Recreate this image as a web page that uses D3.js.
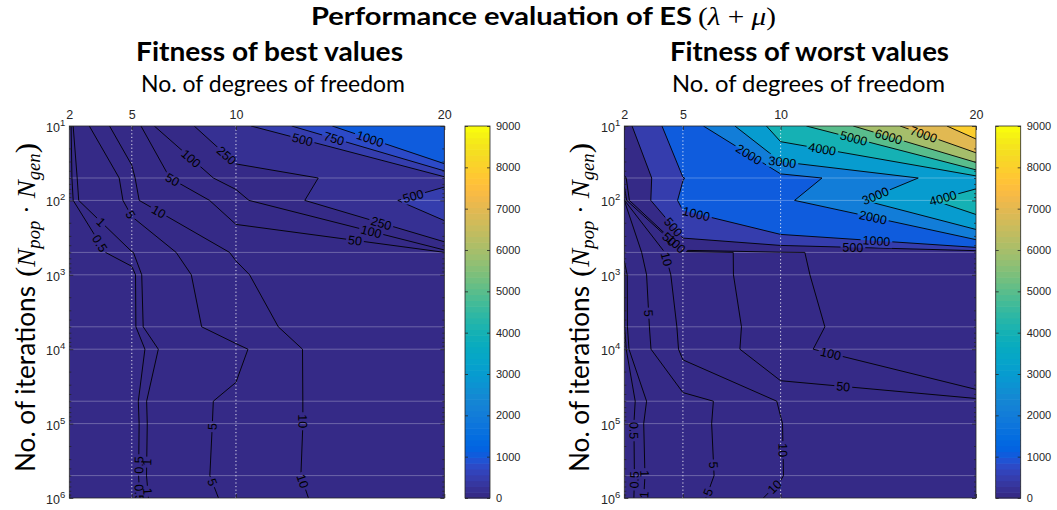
<!DOCTYPE html>
<html>
<head>
<meta charset="utf-8">
<script src="https://cdn.jsdelivr.net/npm/d3@7"></script>
<style>
  body { margin: 0; background: #fff; }
  .num { font-family: "Liberation Sans", Arial, sans-serif; fill: #262626; }
</style>
</head>
<body>
<svg id="chart" width="1057" height="510"></svg>
<script>
// ---- grid of the study -------------------------------------------------
const dofTicks = [2, 5, 10, 20];                       // degrees of freedom (x)
const iterations = [10, 50, 100, 500, 1e3, 5e3, 1e4, 5e4, 1e5, 5e5, 1e6]; // Npop*Ngen (y)
const iterDecades = [10, 100, 1e3, 1e4, 1e5, 1e6];
const colorbarTicks = [0, 1000, 2000, 3000, 4000, 5000, 6000, 7000, 8000, 9000];

// ---- fitness of the best individual, one column per DOF ----------------
const bestAt2  = [0.05, 0.25, 0.15, 0.02, 0.01, 0.01, 0.002, 0.01, 0.01, 0.01, 0.01];
const bestAt5  = [15.5, 6.2, 5.8, 0.85, 0.2, 0.22, 0.01, 0.11, 0.05, 0.07, 0.05];
const bestAt10 = [407, 126, 65, 10.6, 8.6, 7.35, 3.9, 6.36, 6.45, 6.65, 6.0];
const bestAt20 = [1690, 440, 625, 48, 30, 20.4, 23, 17.7, 17.5, 17.4, 17.5];

// ---- fitness of the worst individual -----------------------------------
const worstAt2  = [370, 70, 5, 1.26, 0.4, 0.43, 0.15, 0.02, 0.01, 0.02, 0.01];
const worstAt5  = [1350, 990, 1100, 13.9, 12.5, 11.1, 10.8, 2.6, 3.0, 2.8, 3.0];
const worstAt10 = [4450, 1570, 1800, 84, 85, 76, 78, 10.3, 9.8, 9.7, 11.5];
const worstAt20 = [8620, 3600, 4600, 213, 185, 182, 210, 32, 30, 30, 30];

// ---- contour levels -----------------------------------------------------
const bestLevels  = [0.5, 1, 5, 10, 50, 100, 250, 500, 750, 1000];
const worstLevels = [0.5, 1, 5, 10, 50, 100, 500, 1000, 2000, 3000, 4000, 5000, 6000, 7000, 8000];

// contour label hints: [level, dof, iterations] -> snapped onto the isoline
const bestLabels = [
  [100, 7.71, 30.2], [250, 9.47, 26.3], [50, 6.99, 50.5], [5, 4.91, 157], [10, 6.11, 173],
  [1, 3.31, 225], [0.5, 3.47, 377], [500, 13.08, 19.9], [750, 14.6, 18.6], [1000, 16.35, 17.4],
  [500, 18.5, 87], [250, 16.9, 237], [100, 16.4, 333], [50, 15.7, 369],
  [5, 8.91, 1.1e5], [10, 13.16, 9.3e4], [0.5, 5.39, 3.6e5], [1, 5.8, 3.3e5],
  [5, 8.75, 6.3e5], [10, 13.16, 6.0e5], [0.5, 5.31, 8.6e5], [1, 5.8, 8.1e5]
];
const worstLabels = [
  [2000, 8.18, 29.2], [3000, 10.1, 29.2], [4000, 12.1, 22.8], [5000, 13.64, 18.6],
  [6000, 15.43, 17.1], [7000, 17.2, 15.8], [3000, 14.88, 91], [4000, 18.3, 91],
  [2000, 14.66, 207], [1000, 14.9, 369], [500, 13.7, 425], [1000, 5.7, 146],
  [500, 4.43, 237], [50, 4.08, 386], [100, 4.6, 398], [10, 4.0, 630], [5, 3.06, 3300],
  [100, 12.5, 1.33e4], [50, 13.2, 3.3e4], [0.5, 2.55, 1.24e5], [10, 10.22, 2.27e5],
  [5, 6.56, 3.6e5], [0.5, 2.55, 5.7e5], [1, 3.06, 4.7e5], [10, 9.7, 7.1e5],
  [5, 6.2, 8.2e5], [1, 2.94, 9.0e5]
];

// ---- parula colormap (64 entries) --------------------------------------
const parula = [
[0.2081,0.1663,0.5292],[0.2116,0.1898,0.5777],[0.2123,0.2138,0.6270],[0.2081,0.2386,0.6771],
[0.1959,0.2645,0.7279],[0.1707,0.2919,0.7792],[0.1253,0.3242,0.8303],[0.0591,0.3598,0.8683],
[0.0117,0.3875,0.8820],[0.0060,0.4086,0.8828],[0.0165,0.4266,0.8786],[0.0329,0.4430,0.8720],
[0.0498,0.4586,0.8641],[0.0629,0.4737,0.8554],[0.0723,0.4887,0.8467],[0.0779,0.5040,0.8384],
[0.0793,0.5200,0.8312],[0.0749,0.5375,0.8263],[0.0641,0.5570,0.8240],[0.0488,0.5772,0.8228],
[0.0343,0.5966,0.8199],[0.0265,0.6137,0.8135],[0.0239,0.6287,0.8038],[0.0231,0.6418,0.7913],
[0.0228,0.6535,0.7768],[0.0267,0.6642,0.7607],[0.0384,0.6743,0.7436],[0.0590,0.6838,0.7254],
[0.0843,0.6928,0.7062],[0.1133,0.7015,0.6859],[0.1453,0.7098,0.6646],[0.1801,0.7177,0.6424],
[0.2178,0.7250,0.6193],[0.2586,0.7317,0.5954],[0.3022,0.7376,0.5712],[0.3482,0.7424,0.5473],
[0.3953,0.7459,0.5244],[0.4420,0.7481,0.5033],[0.4871,0.7491,0.4840],[0.5300,0.7491,0.4661],
[0.5709,0.7485,0.4494],[0.6099,0.7473,0.4337],[0.6473,0.7456,0.4188],[0.6834,0.7435,0.4044],
[0.7184,0.7411,0.3905],[0.7525,0.7384,0.3768],[0.7858,0.7356,0.3633],[0.8185,0.7327,0.3498],
[0.8507,0.7299,0.3360],[0.8824,0.7274,0.3217],[0.9139,0.7258,0.3063],[0.9450,0.7261,0.2886],
[0.9739,0.7314,0.2666],[0.9938,0.7455,0.2403],[0.9990,0.7653,0.2164],[0.9955,0.7861,0.1967],
[0.9880,0.8066,0.1794],[0.9789,0.8271,0.1633],[0.9697,0.8481,0.1475],[0.9626,0.8705,0.1309],
[0.9589,0.8949,0.1132],[0.9598,0.9218,0.0948],[0.9661,0.9514,0.0755],[0.9763,0.9831,0.0538]
];
const cmax = 9000;
const rgbOf = c => d3.rgb(c[0] * 255, c[1] * 255, c[2] * 255).formatHex();
function levelColor(v) {
  const k = Math.max(0, Math.min(parula.length - 1, Math.floor(v / cmax * parula.length)));
  return rgbOf(parula[k]);
}

// ---- layout ---------------------------------------------------------------
const W = 1057, H = 510;
const Y0 = 126, Y1 = 498;
const axisColor = "#262626";
const sans = "Lato, 'Open Sans', sans-serif";
const serif = "'Liberation Serif', serif";
const panels = [
  { id: "best", title: "Fitness of best values", cols: [bestAt2, bestAt5, bestAt10, bestAt20],
    levels: bestLevels, labels: bestLabels, x0: 69.3, x1: 444.3, cb: 465,
    titleX: 269.5, titleW: 267, subX: 273, subW: 264, ylabX: 35 },
  { id: "worst", title: "Fitness of worst values", cols: [worstAt2, worstAt5, worstAt10, worstAt20],
    levels: worstLevels, labels: worstLabels, x0: 624.3, x1: 976, cb: 995.7,
    titleX: 809.5, titleW: 279, subX: 808.5, subW: 273, ylabX: 589 }
];

const svg = d3.select("#chart");
const defs = svg.append("defs");

// main title: sans-serif bold words followed by the math part
svg.append("text").attr("x", 311).attr("y", 25).attr("font-size", 25)
  .attr("font-family", sans).attr("font-weight", 700).attr("fill", "#000")
  .attr("textLength", 381).attr("lengthAdjust", "spacingAndGlyphs")
  .text("Performance evaluation of ES");
const mt = svg.append("text").attr("x", 698).attr("y", 25).attr("font-size", 25)
  .attr("font-family", serif).attr("fill", "#000")
  .attr("textLength", 78).attr("lengthAdjust", "spacingAndGlyphs");
mt.append("tspan").text("(");
mt.append("tspan").attr("font-style", "italic").text("λ");
mt.append("tspan").text(" + ");
mt.append("tspan").attr("font-style", "italic").text("μ");
mt.append("tspan").text(")");

function drawPanel(p) {
  const nx = dofTicks.length, ny = iterations.length;
  const x = d3.scaleLinear().domain([dofTicks[0], dofTicks[nx - 1]]).range([p.x0, p.x1]);
  const y = d3.scaleLog().domain([iterations[0], iterations[ny - 1]]).range([Y0, Y1]);

  // values in row-major order for d3.contours
  const grid = [];
  for (let j = 0; j < ny; j++) for (let i = 0; i < nx; i++) grid.push(p.cols[i][j]);

  // contour space (cell centres at k+0.5) -> data -> pixels
  const toIdx = (c, n) => Math.max(0, Math.min(n - 1, c - 0.5));
  const lerp = (arr, f) => {
    const i = Math.min(Math.floor(f), arr.length - 2);
    const t = f - i;
    return arr[i] + t * (arr[i + 1] - arr[i]);
  };
  const toPx = (cx, cy) => [x(lerp(dofTicks, toIdx(cx, nx))), y(lerp(iterations, toIdx(cy, ny)))];

  const contours = d3.contours().size([nx, ny]).thresholds(p.levels)(grid);

  const clipId = "clip-" + p.id;
  defs.append("clipPath").attr("id", clipId).append("rect")
    .attr("x", p.x0).attr("y", Y0).attr("width", p.x1 - p.x0).attr("height", Y1 - Y0);

  const g = svg.append("g");
  const plot = g.append("g").attr("clip-path", `url(#${clipId})`);

  // filled bands
  plot.append("rect").attr("x", p.x0).attr("y", Y0).attr("width", p.x1 - p.x0)
    .attr("height", Y1 - Y0).attr("fill", levelColor(0));
  const proj = d3.geoTransform({
    point: function (a, b) { const q = toPx(a, b); this.stream.point(q[0], q[1]); }
  });
  const geo = d3.geoPath(proj);
  plot.selectAll("path.band").data(contours).join("path").attr("class", "band")
    .attr("d", geo).attr("fill", d => levelColor(d.value)).attr("stroke", "none");

  // grid lines at the sampled iteration counts and at the DOF ticks
  plot.selectAll("line.hgrid").data(iterations.slice(1, -1)).join("line").attr("class", "hgrid")
    .attr("x1", p.x0).attr("x2", p.x1).attr("y1", d => y(d)).attr("y2", d => y(d))
    .attr("stroke", "#fff").attr("stroke-opacity", 0.28).attr("stroke-width", 1);
  plot.selectAll("line.vgrid").data(dofTicks.slice(1, -1)).join("line").attr("class", "vgrid")
    .attr("x1", d => x(d)).attr("x2", d => x(d)).attr("y1", Y0).attr("y2", Y1)
    .attr("stroke", "#fff").attr("stroke-opacity", 0.85).attr("stroke-width", 1)
    .attr("stroke-dasharray", "1.2,2.4");

  // isolines: polygon rings without the stretches that run along the frame
  const eps = 1e-7;
  function ringsToLines(mp) {
    const out = [];
    for (const poly of mp) for (const ring of poly) {
      const pts = ring.map(([a, b]) => ({ ix: toIdx(a, nx), iy: toIdx(b, ny), p: toPx(a, b) }));
      const m = pts.length - 1;
      const onFrame = (a, b) =>
        (a.ix <= eps && b.ix <= eps) || (a.ix >= nx - 1 - eps && b.ix >= nx - 1 - eps) ||
        (a.iy <= eps && b.iy <= eps) || (a.iy >= ny - 1 - eps && b.iy >= ny - 1 - eps);
      const keep = [];
      for (let k = 0; k < m; k++) keep.push(!onFrame(pts[k], pts[k + 1]));
      const start = keep.indexOf(false);
      if (start < 0) { out.push(pts.map(q => q.p)); continue; }
      let cur = null;
      for (let s = 1; s <= m; s++) {
        const k = (start + s) % m;
        if (keep[k]) { if (!cur) cur = [pts[k].p]; cur.push(pts[k + 1].p); }
        else if (cur) { out.push(cur); cur = null; }
      }
      if (cur) out.push(cur);
    }
    return out;
  }
  const isolines = contours.map(c => ({ value: c.value, lines: ringsToLines(c.coordinates) }));

  const maskId = "mask-" + p.id;
  const mask = defs.append("mask").attr("id", maskId).attr("maskUnits", "userSpaceOnUse")
    .attr("x", 0).attr("y", 0).attr("width", W).attr("height", H);
  mask.append("rect").attr("x", 0).attr("y", 0).attr("width", W).attr("height", H).attr("fill", "#fff");

  const lineGen = d3.line();
  plot.append("g").attr("mask", `url(#${maskId})`)
    .selectAll("path").data(isolines.flatMap(d => d.lines)).join("path")
    .attr("d", lineGen).attr("fill", "none").attr("stroke", "#000")
    .attr("stroke-width", 0.9).attr("stroke-linejoin", "round");

  // inline contour labels
  const labelG = plot.append("g");
  for (const [lev, hx, hy] of p.labels) {
    const iso = isolines.find(d => Math.abs(d.value - lev) < 1e-9);
    if (!iso) continue;
    const hp = [x(hx), y(hy)];
    let best = null;
    for (const line of iso.lines) for (let k = 0; k < line.length - 1; k++) {
      const a = line[k], b = line[k + 1];
      const dx = b[0] - a[0], dy = b[1] - a[1], L2 = dx * dx + dy * dy;
      if (L2 === 0) continue;
      let t = ((hp[0] - a[0]) * dx + (hp[1] - a[1]) * dy) / L2;
      t = Math.max(0, Math.min(1, t));
      const q = [a[0] + t * dx, a[1] + t * dy];
      const d2 = (q[0] - hp[0]) ** 2 + (q[1] - hp[1]) ** 2;
      if (!best || d2 < best.d2) best = { d2, q, ang: Math.atan2(dy, dx) * 180 / Math.PI };
    }
    if (!best) continue;
    let ang = best.ang;
    if (ang > 90) ang -= 180;
    if (ang <= -90) ang += 180;
    const tf = `translate(${best.q[0]},${best.q[1]}) rotate(${ang})`;
    const t = labelG.append("text").attr("class", "num").attr("transform", tf)
      .attr("text-anchor", "middle").attr("dy", "0.36em").attr("font-size", 12.5)
      .style("fill", "#000").text(String(lev));
    const w = t.node().getComputedTextLength();
    mask.append("rect").attr("transform", tf).attr("x", -w / 2 - 2).attr("y", -6.5)
      .attr("width", w + 4).attr("height", 13).attr("fill", "#000");
  }

  // axes
  const axes = g.append("g");
  const styleAxis = sel => {
    sel.select(".domain").remove();
    sel.selectAll(".tick line").attr("stroke", axisColor).attr("stroke-width", 0.8);
    sel.selectAll(".tick text").attr("class", "num").attr("font-size", 12.5).style("fill", axisColor);
  };
  axes.append("g").attr("transform", `translate(0,${Y0})`)
    .call(d3.axisTop(x).tickValues(dofTicks).tickSizeInner(-4).tickSizeOuter(0)
      .tickPadding(7).tickFormat(d3.format("d"))).call(styleAxis);
  axes.append("g").attr("transform", `translate(0,${Y1})`)
    .call(d3.axisBottom(x).tickValues(dofTicks).tickSizeInner(-4).tickSizeOuter(0).tickFormat(""))
    .call(styleAxis);

  const minor = [];
  for (let e = 1; e < 6; e++) for (let m = 2; m <= 9; m++) minor.push(m * 10 ** e);
  for (const [side, xpos] of [[d3.axisLeft, p.x0], [d3.axisRight, p.x1]]) {
    axes.append("g").attr("transform", `translate(${xpos},0)`)
      .call(side(y).tickValues(iterDecades).tickSizeInner(-4).tickSizeOuter(0).tickFormat(""))
      .call(styleAxis);
    axes.append("g").attr("transform", `translate(${xpos},0)`)
      .call(side(y).tickValues(minor).tickSizeInner(-2).tickSizeOuter(0).tickFormat(""))
      .call(styleAxis);
  }
  // 10^k tick labels
  for (const v of iterDecades) {
    const t = axes.append("text").attr("class", "num").attr("x", p.x0 - 4)
      .attr("y", y(v) + 6).attr("text-anchor", "end").attr("font-size", 12.5);
    t.append("tspan").text("10");
    t.append("tspan").attr("dy", -6).attr("font-size", 9.5).text(Math.round(Math.log10(v)));
  }
  axes.append("rect").attr("x", p.x0).attr("y", Y0).attr("width", p.x1 - p.x0)
    .attr("height", Y1 - Y0).attr("fill", "none").attr("stroke", axisColor).attr("stroke-width", 0.8);

  // titles
  g.append("text").attr("x", p.titleX).attr("y", 61).attr("text-anchor", "middle")
    .attr("font-family", sans).attr("font-weight", 700).attr("font-size", 26)
    .attr("textLength", p.titleW).attr("lengthAdjust", "spacingAndGlyphs")
    .attr("fill", "#000").text(p.title);
  g.append("text").attr("x", p.subX).attr("y", 92).attr("text-anchor", "middle")
    .attr("font-family", sans).attr("font-size", 23)
    .attr("textLength", p.subW).attr("lengthAdjust", "spacingAndGlyphs")
    .attr("fill", "#000").text("No. of degrees of freedom");

  // y label: words, then the math part
  g.append("text").attr("transform", `translate(${p.ylabX},472) rotate(-90)`)
    .attr("font-family", sans).attr("font-size", 26).attr("fill", "#000")
    .attr("textLength", 186).attr("lengthAdjust", "spacingAndGlyphs")
    .text("No. of iterations");
  const yl = g.append("text").attr("transform", `translate(${p.ylabX},277) rotate(-90)`)
    .attr("font-family", serif).attr("font-size", 26).attr("fill", "#000")
    .attr("textLength", 134).attr("lengthAdjust", "spacingAndGlyphs");
  yl.append("tspan").attr("font-size", 30).attr("dy", 1).text("(");
  yl.append("tspan").attr("font-style", "italic").attr("dy", -1).text("N");
  yl.append("tspan").attr("font-style", "italic").attr("font-size", 18).attr("dy", 5).text("pop");
  yl.append("tspan").attr("dy", -5).text(" · ");
  yl.append("tspan").attr("font-style", "italic").text("N");
  yl.append("tspan").attr("font-style", "italic").attr("font-size", 18).attr("dy", 5).text("gen");
  yl.append("tspan").attr("font-size", 30).attr("dy", -4).text(")");

  // colorbar
  const cbW = 25;
  const cy = d3.scaleLinear().domain([0, cmax]).range([Y1, Y0]);
  const nb = parula.length;
  const cbg = svg.append("g");
  cbg.selectAll("rect.band").data(d3.range(nb)).join("rect").attr("class", "band")
    .attr("x", p.cb).attr("width", cbW)
    .attr("y", k => cy((k + 1) * cmax / nb))
    .attr("height", k => cy(k * cmax / nb) - cy((k + 1) * cmax / nb) + 0.6)
    .attr("fill", k => rgbOf(parula[k]));
  cbg.append("g").attr("transform", `translate(${p.cb + cbW},0)`)
    .call(d3.axisRight(cy).tickValues(colorbarTicks).tickSizeInner(-3).tickSizeOuter(0)
      .tickPadding(6).tickFormat(d3.format("d"))).call(styleAxis)
    .selectAll(".tick text").attr("font-size", 11);
  cbg.append("g").attr("transform", `translate(${p.cb},0)`)
    .call(d3.axisLeft(cy).tickValues(colorbarTicks).tickSizeInner(-3).tickSizeOuter(0).tickFormat(""))
    .call(styleAxis);
  cbg.append("rect").attr("x", p.cb).attr("y", Y0).attr("width", cbW).attr("height", Y1 - Y0)
    .attr("fill", "none").attr("stroke", axisColor).attr("stroke-width", 0.8);
}

panels.forEach(drawPanel);
</script>
</body>
</html>
